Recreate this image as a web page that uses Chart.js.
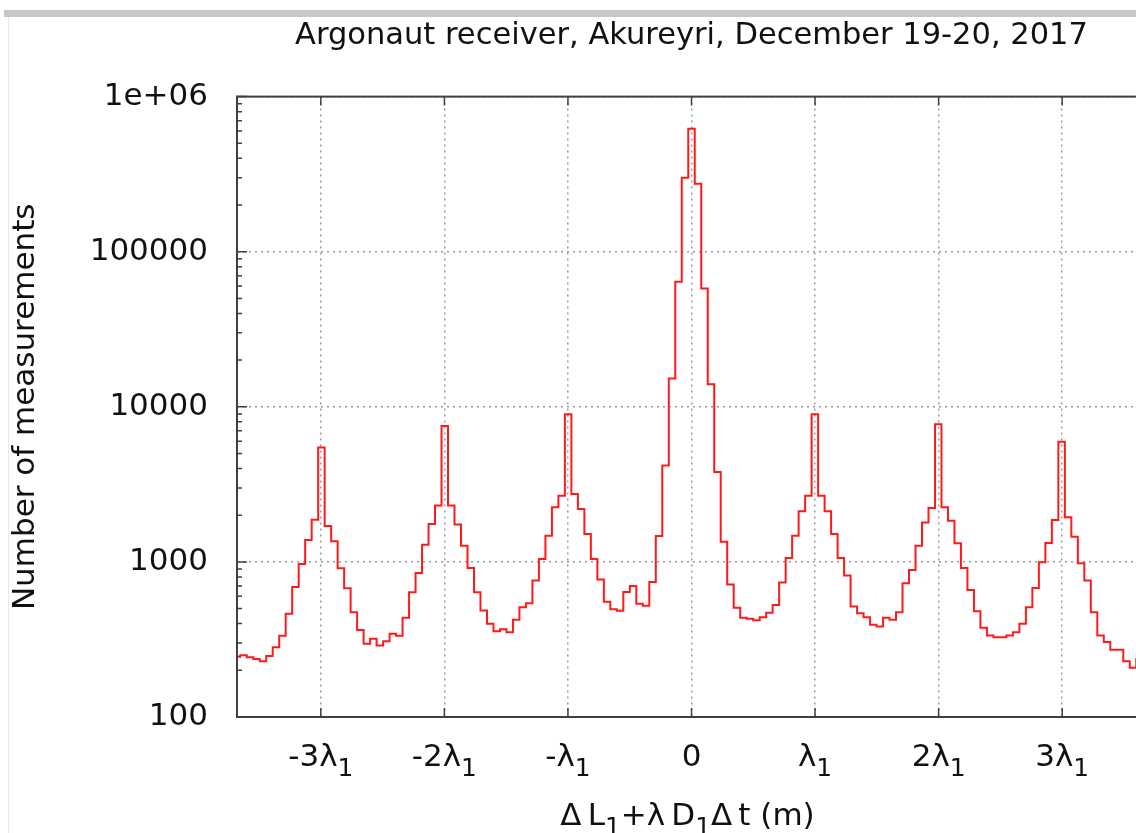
<!DOCTYPE html>
<html>
<head>
<meta charset="utf-8">
<title>Argonaut receiver, Akureyri</title>
<script src="https://cdn.jsdelivr.net/npm/chart.js@4.4.1/dist/chart.umd.min.js"></script>
<style>
    html, body { margin: 0; padding: 0; background: #fff; overflow: hidden; width: 1136px; height: 833px; }
    #topBar { position: absolute; left: 4px; top: 10px; width: 1132px; height: 7px; background: #c8c8c8; }
    #leftLine { position: absolute; left: 8px; top: 17px; width: 1px; height: 816px; background: #e8e8e8; }
    #wrap { position: absolute; left: 0; top: 0; width: 1160px; height: 833px; }
</style>
</head>
<body>
<div id="topBar"></div>
<div id="leftLine"></div>
<div id="wrap"><canvas id="chart" width="1160" height="833"></canvas></div>

<script>
const TITLE = 'Argonaut receiver, Akureyri, December 19-20, 2017';
const LAMBDA1 = 0.1903;   // GPS L1 wavelength (m)

// histogram bins, 1 cm wide, centred from -0.70 m to +0.70 m
const binCentres = Array.from({ length: 141 }, (_, i) => +(-0.70 + i * 0.01).toFixed(2));

const counts = [
    245, 250, 243, 237, 229, 247, 282, 334, 463, 690,          // -0.70 .. -0.61
    970, 1386, 1872, 5470, 1706, 1357, 910, 676, 474, 364,     // -0.60 .. -0.51
    297, 320, 289, 308, 344, 334, 436, 637, 849, 1292,         // -0.50 .. -0.41
    1757, 2308, 7530, 2308, 1740, 1273, 915, 637, 486, 399,    // -0.40 .. -0.31
    357, 368, 352, 423, 510, 541, 758, 1045, 1477, 2250,       // -0.30 .. -0.21
    2674, 8960, 2740, 2194, 1514, 1045, 770, 553, 496, 484,    // -0.20 .. -0.11
    640, 700, 538, 522, 742, 1470, 4190, 15200, 64000, 300000, // -0.10 .. -0.01
    620000, 274000, 58000, 14000, 3800, 1350, 716, 507, 437, 430, // 0.00 .. 0.09
    421, 440, 470, 528, 737, 1061, 1477, 2118, 2674, 8960,     // 0.10 .. 0.19
    2674, 2118, 1514, 1061, 816, 515, 467, 440, 393, 383,      // 0.20 .. 0.29
    436, 423, 474, 728, 888, 1273, 1797, 2227, 7720, 2250,     // 0.30 .. 0.39
    1845, 1318, 915, 660, 481, 376, 335, 327, 327, 335,        // 0.40 .. 0.49
    352, 399, 510, 680, 994, 1325, 1864, 5950, 1937, 1455,     // 0.50 .. 0.59
    980, 758, 474, 335, 304, 271, 271, 229, 208, 237,          // 0.60 .. 0.69
    230                                                        // 0.70
];

const xTickMultiples = [-3, -2, -1, 0, 1, 2, 3];
const xTickLabels = [['-3λ', '1'], ['-2λ', '1'], ['-λ', '1'], ['0', ''], ['λ', '1'], ['2λ', '1'], ['3λ', '1']];
const xTitleParts = [['Δ\u2009L', 0], ['1', 1], ['+λ\u2009D', 0], ['1', 1], ['Δ\u2009t (m)', 0]];

const yTicks = [100, 1000, 10000, 100000, 1000000];
const yTickLabels = ['100', '1000', '10000', '100000', '1e+06'];

const FONT = 'DejaVu Sans';
const FSIZE = 31;
const TEXT = '#111';

// draws text pieces with gnuplot-like subscripts, centred on cx
function drawRich(ctx, parts, cx, baseline) {
    const widths = parts.map(([t, sub]) => {
        ctx.font = (sub ? FSIZE * 0.8 : FSIZE) + 'px "' + FONT + '"';
        return ctx.measureText(t).width;
    });
    let x = cx - widths.reduce((a, b) => a + b, 0) / 2;
    parts.forEach(([t, sub], i) => {
        ctx.font = (sub ? FSIZE * 0.8 : FSIZE) + 'px "' + FONT + '"';
        ctx.fillText(t, x, baseline + (sub ? 10 : 0));
        x += widths[i];
    });
}

const framePlugin = {
    id: 'frame',
    afterDraw(chart) {
        const { ctx, chartArea: a, scales: { x, y } } = chart;
        ctx.save();
        ctx.strokeStyle = '#404040';
        ctx.lineWidth = 2;
        ctx.strokeRect(a.left, a.top, a.right - a.left, a.bottom - a.top);

        // tick marks, pointing inwards, mirrored
        ctx.lineWidth = 1.5;
        ctx.beginPath();
        yTicks.forEach(v => {
            const py = y.getPixelForValue(v);
            ctx.moveTo(a.left, py); ctx.lineTo(a.left + 10, py);
            ctx.moveTo(a.right, py); ctx.lineTo(a.right - 10, py);
        });
        for (let d = 100; d < 1000000; d *= 10) {
            for (let m = 2; m <= 9; m++) {
                const py = y.getPixelForValue(d * m);
                ctx.moveTo(a.left, py); ctx.lineTo(a.left + 5, py);
                ctx.moveTo(a.right, py); ctx.lineTo(a.right - 5, py);
            }
        }
        xTickMultiples.forEach(n => {
            const px = x.getPixelForValue(n * LAMBDA1);
            ctx.moveTo(px, a.bottom); ctx.lineTo(px, a.bottom - 9);
            ctx.moveTo(px, a.top); ctx.lineTo(px, a.top + 9);
        });
        ctx.stroke();

        // x tick labels and axis title with subscripts
        ctx.fillStyle = TEXT;
        ctx.textAlign = 'left';
        ctx.textBaseline = 'alphabetic';
        xTickMultiples.forEach((n, i) => {
            const px = x.getPixelForValue(n * LAMBDA1);
            const [main, sub] = xTickLabels[i];
            drawRich(ctx, sub ? [[main, 0], [sub, 1]] : [[main, 0]], px, 766);
        });
        drawRich(ctx, xTitleParts, (a.left + a.right) / 2 - 4, 825);
        ctx.restore();
    }
};

const gridStyle = { color: '#999999', lineWidth: 1.5, drawTicks: false };

new Chart(document.getElementById('chart'), {
    type: 'line',
    data: {
        datasets: [{
            data: binCentres.map((x, i) => ({ x: x, y: counts[i] })),
            borderColor: '#ff1a1a',
            borderWidth: 2,
            pointRadius: 0,
            stepped: 'middle',
            fill: false
        }]
    },
    options: {
        responsive: false,
        animation: false,
        devicePixelRatio: 1,
        layout: { padding: { top: 18, right: 14, bottom: 0, left: 0 } },
        plugins: {
            legend: { display: false },
            tooltip: { enabled: false },
            title: {
                display: true,
                text: TITLE,
                fullSize: false,
                color: TEXT,
                font: { family: FONT, size: 30.5, weight: 'normal' },
                padding: { top: 0, bottom: 42 }
            }
        },
        scales: {
            x: {
                type: 'linear',
                min: -0.7,
                max: 0.7,
                afterBuildTicks: s => { s.ticks = xTickMultiples.map(n => ({ value: n * LAMBDA1 })); },
                afterFit: s => { s.height = 116; },
                ticks: { display: false },
                grid: gridStyle,
                border: { display: false, dash: [2, 4] }
            },
            y: {
                type: 'logarithmic',
                min: 100,
                max: 1000000,
                afterBuildTicks: s => { s.ticks = yTicks.map(v => ({ value: v })); },
                afterFit: s => { s.width = 237; },
                ticks: {
                    color: TEXT,
                    font: { family: FONT, size: FSIZE },
                    padding: 29,
                    callback: (v, i) => yTickLabels[i]
                },
                grid: gridStyle,
                border: { display: false, dash: [2, 4] },
                title: {
                    display: true,
                    text: 'Number of measurements',
                    color: TEXT,
                    font: { family: FONT, size: FSIZE },
                    padding: { top: 7, bottom: 0 }
                }
            }
        }
    },
    plugins: [framePlugin]
});
</script>
</body>
</html>
